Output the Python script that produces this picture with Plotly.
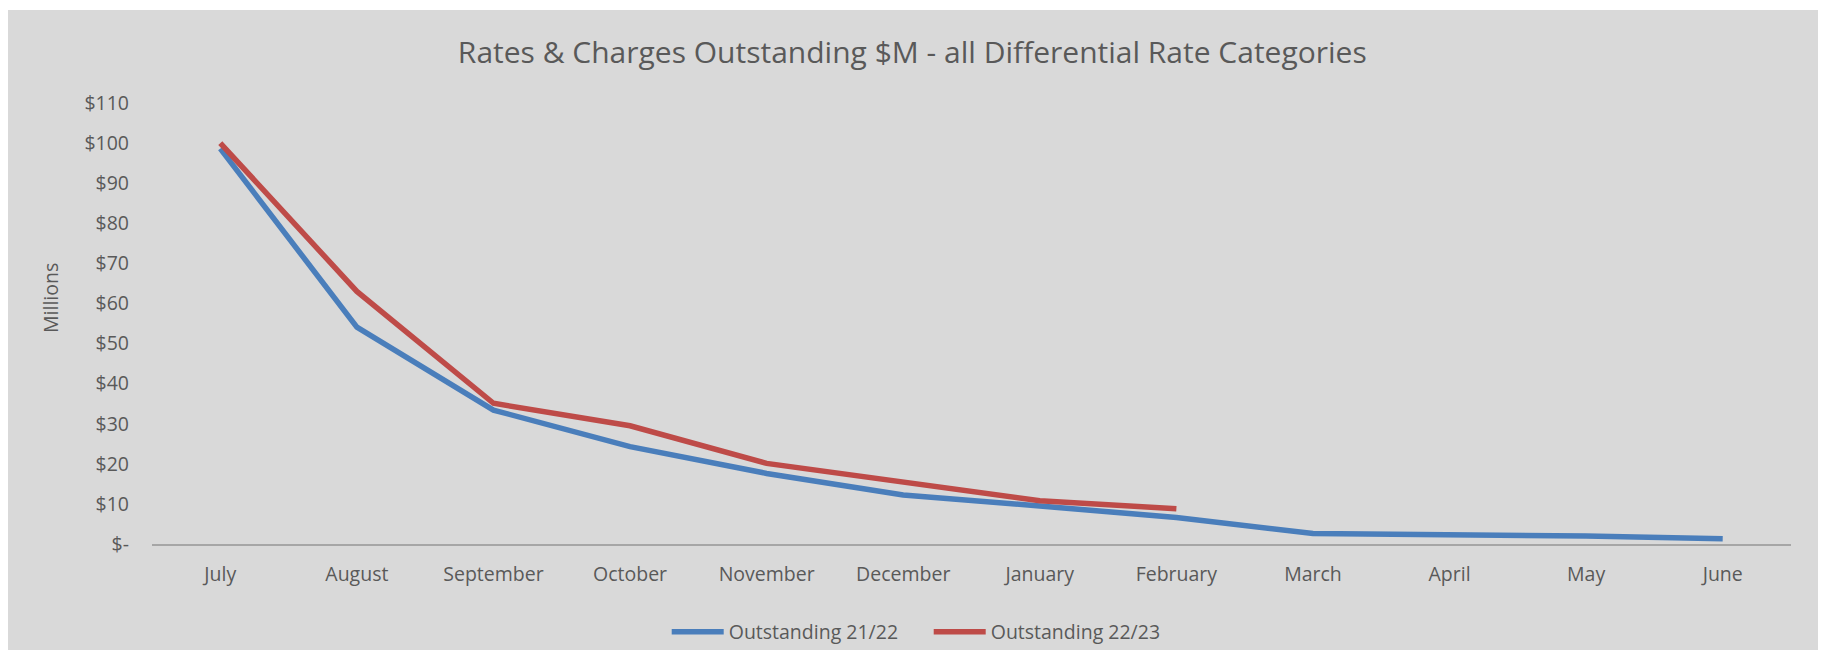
import plotly.graph_objects as go

# Month order for the rating year (July to June)
months = ["July", "August", "September", "October", "November", "December",
          "January", "February", "March", "April", "May", "June"]

# Outstanding rates & charges, $ millions
outstanding_21_22 = [98.6, 54.1, 33.4, 24.3, 17.6, 12.2, 9.5, 6.6, 2.6, 2.3, 2.0, 1.3]
outstanding_22_23 = [100.0, 63.0, 35.1, 29.5, 20.1, 15.6, 10.8, 8.8]

# Value axis ticks
y_tick_values = [0, 10, 20, 30, 40, 50, 60, 70, 80, 90, 100, 110]
y_tick_labels = ["$-", "$10", "$20", "$30", "$40", "$50", "$60", "$70",
                 "$80", "$90", "$100", "$110"]

TEXT = "#595959"
FONT = "Open Sans"
FS = 19.5
W, H = 1821, 650
L, R, T, B = 152, 30, 103, 106
plot_w = W - L - R
plot_h = H - T - B

fig = go.Figure()
fig.add_trace(go.Scatter(
    x=months, y=outstanding_21_22, mode="lines", name="Outstanding 21/22",
    line=dict(color="#4A7EBB", width=5.5),
))
fig.add_trace(go.Scatter(
    x=months[:len(outstanding_22_23)], y=outstanding_22_23, mode="lines",
    name="Outstanding 22/23",
    line=dict(color="#BE4B48", width=5.5),
))

# grey chart area with a thin white margin at the top and sides
fig.add_shape(
    type="rect", xref="paper", yref="paper", layer="below",
    x0=(8 - L) / plot_w, x1=(1818 - L) / plot_w,
    y0=(H - B - 650) / plot_h, y1=(H - B - 10) / plot_h,
    fillcolor="#D9D9D9", line=dict(width=0),
)

# value-axis caption, set a little above the middle of the plot area
fig.add_annotation(
    text="Millions", textangle=-90, showarrow=False,
    xref="paper", yref="paper",
    x=(50 - L) / plot_w, y=(H - B - 298) / plot_h,
    xanchor="center", yanchor="middle",
    font=dict(family=FONT, size=FS, color=TEXT),
)

fig.update_layout(
    width=W, height=H,
    margin=dict(l=L, r=R, t=T, b=B, pad=0),
    paper_bgcolor="white",
    plot_bgcolor="rgba(0,0,0,0)",
    font=dict(family=FONT, color=TEXT, size=FS),
    title=dict(
        text="Rates & Charges Outstanding $M - all Differential Rate Categories",
        xref="container", yref="container", x=0.501, y=1 - 52 / H,
        xanchor="center", yanchor="middle",
        font=dict(family=FONT, size=30, color=TEXT),
    ),
    xaxis=dict(
        type="category", range=[-0.5, 11.5],
        showgrid=False, zeroline=False,
        showline=True, linecolor="#A6A6A6", linewidth=1.5,
        ticks="", tickfont=dict(size=FS, color=TEXT),
        ticklabelstandoff=12,
    ),
    yaxis=dict(
        range=[0, 110], showgrid=False, zeroline=False, showline=False,
        tickvals=y_tick_values, ticktext=y_tick_labels,
        ticks="", tickfont=dict(size=FS, color=TEXT),
        ticklabelstandoff=22,
    ),
    showlegend=True,
    legend=dict(
        orientation="h", xref="container", yref="container",
        x=0.51, y=1 - 632 / H, xanchor="center", yanchor="middle",
        font=dict(size=FS, color=TEXT), bgcolor="rgba(0,0,0,0)",
        itemwidth=52, entrywidth=195, tracegroupgap=0,
    ),
)

fig.write_html("out.html")
